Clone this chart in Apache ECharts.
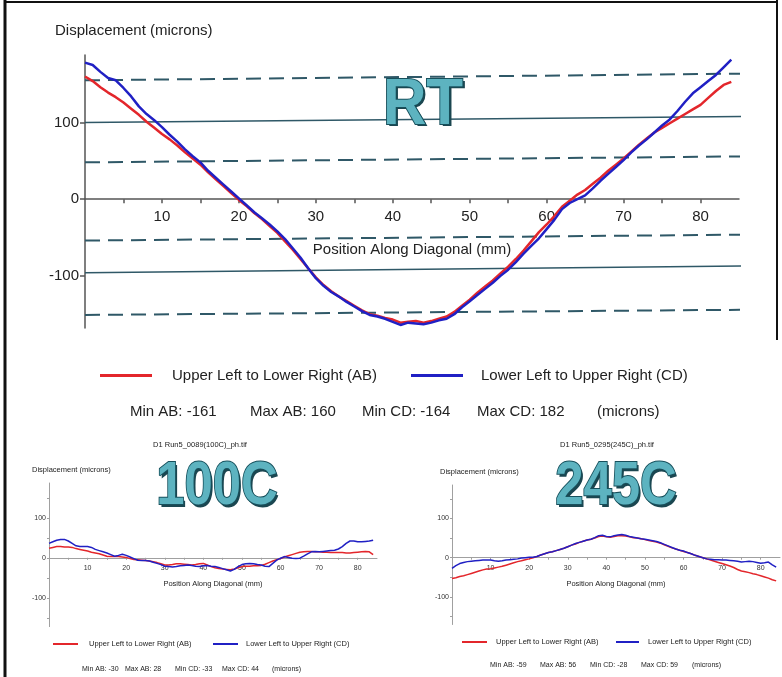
<!DOCTYPE html>
<html>
<head>
<meta charset="utf-8">
<title>Displacement along diagonal</title>
<script src="https://cdn.jsdelivr.net/npm/echarts@6/dist/echarts.min.js"></script>
<style>
  html, body { margin: 0; padding: 0; background: #fff; }
  #chart { width: 782px; height: 677px; }
</style>
</head>
<body>
<div id="chart"></div>
<script>
// sample positions along the diagonal, 1 mm apart
const positionMm = Array.from({ length: 85 }, (_, i) => i);

const nameAB = 'Upper Left to Lower Right (AB)';
const nameCD = 'Lower Left to Upper Right (CD)';

// RT (main chart)
const rtAB = [160, 154, 146, 139, 133, 126, 118, 110, 101, 93, 85, 78, 70, 61, 53, 45, 35, 26, 17, 8,
  -1, -9, -18, -26, -35, -44, -55, -66, -78, -90, -102, -112, -120, -127, -133, -139, -145, -150, -152, -155,
  -157, -161, -160, -159, -161, -159, -156, -153, -147, -139, -131, -122, -114, -106, -97, -88, -78, -67, -55, -43,
  -33, -22, -10, -2, 6, 12, 20, 28, 37, 45, 53, 62, 71, 79, 87, 93, 99, 105, 111, 117,
  123, 132, 141, 149, 153];
const rtCD = [178, 175, 166, 158, 155, 145, 134, 121, 111, 103, 94, 84, 75, 65, 56, 48, 37, 28, 19, 10,
  1, -8, -17, -25, -33, -42, -52, -64, -76, -90, -103, -113, -121, -127, -134, -140, -146, -151, -153, -156,
  -160, -164, -161, -162, -163, -161, -158, -156, -150, -141, -133, -125, -117, -109, -100, -92, -82, -71, -61, -51,
  -39, -27, -13, -5, 0, 5, 14, 24, 33, 42, 51, 61, 70, 78, 87, 96, 104, 115, 127, 138,
  146, 154, 162, 172, 182];

// tilted guide lines drawn over the RT chart (value at left edge / right edge)
const guideStart = [155, 100, 48, -54, -96, -151];
const guideEnd = [164, 108, 56, -46, -87, -144];
const guideEndMm = 88.3;

// 100C
const c100AB = [24, 26, 28, 28, 27, 27, 26, 23, 21, 19, 17, 14, 12, 10, 7, 4, 3, 3, 3, 2,
  1, -2, -4, -5, -6, -7, -8, -10, -12, -15, -18, -18, -17, -15, -15, -16, -17, -18, -17, -15,
  -14, -18, -22, -25, -27, -28, -29, -30, -28, -25, -22, -21, -21, -20, -20, -19, -16, -12, -8, -5,
  -2, 2, 5, 8, 11, 14, 15, 16, 16, 15, 15, 14, 14, 13, 13, 13, 13, 12, 12, 13,
  14, 15, 16, 15, 8];
const c100CD = [36, 40, 44, 46, 46, 42, 36, 30, 28, 28, 28, 26, 21, 18, 15, 12, 8, 4, 6, 9,
  6, 2, -2, -6, -7, -7, -8, -11, -14, -17, -21, -22, -23, -22, -20, -19, -18, -19, -21, -22,
  -20, -19, -21, -22, -24, -27, -30, -33, -29, -22, -17, -15, -14, -15, -17, -18, -21, -22, -14, -6,
  -1, 3, 1, -1, -2, -1, 4, 10, 15, 16, 15, 16, 17, 18, 19, 22, 28, 36, 42, 42,
  40, 40, 41, 42, 44];

// 245C
const c245AB = [-53, -51, -48, -46, -43, -40, -37, -34, -31, -29, -28, -26, -24, -22, -19, -16, -13, -10, -8, -5,
  -3, 0, 3, 7, 10, 13, 15, 18, 21, 24, 28, 32, 35, 39, 42, 45, 47, 50, 54, 55,
  53, 52, 54, 56, 56, 55, 53, 51, 50, 48, 46, 44, 42, 40, 37, 33, 29, 25, 22, 19,
  16, 13, 10, 6, 3, 0, -3, -6, -9, -12, -15, -18, -21, -25, -30, -34, -36, -38, -41, -43,
  -46, -49, -52, -56, -59];
const c245CD = [-27, -20, -15, -12, -10, -9, -8, -7, -6, -6, -6, -8, -9, -8, -6, -5, -4, -3, -1, 0,
  1, 1, 3, 7, 10, 13, 15, 18, 21, 24, 28, 32, 36, 39, 42, 45, 47, 51, 56, 57,
  54, 53, 56, 58, 59, 57, 54, 52, 50, 48, 47, 45, 43, 41, 38, 34, 30, 26, 22, 19,
  17, 13, 10, 6, 3, 0, -3, -4, -5, -5, -6, -6, -7, -8, -9, -11, -10, -9, -10, -12,
  -14, -13, -11, -18, -24];

const rtStats = ['Min AB: -161', 'Max AB: 160', 'Min CD: -164', 'Max CD: 182', '(microns)'];
const c100Stats = ['Min AB: -30', 'Max AB: 28', 'Min CD: -33', 'Max CD: 44', '(microns)'];
const c245Stats = ['Min AB: -59', 'Max AB: 56', 'Min CD: -28', 'Max CD: 59', '(microns)'];

const xTicks = [5, 10, 15, 20, 25, 30, 35, 40, 45, 50, 55, 60, 65, 70, 75, 80];
const xLabels = [10, 20, 30, 40, 50, 60, 70, 80];
const yLabels = [-100, 0, 100];
const ySmallTicks = [-150, -100, -50, 0, 50, 100, 150];

const font = '"Liberation Sans", Arial, sans-serif';
const red = '#e3262b';
const blue = '#2020c4';

const pair = vals => vals.map((v, i) => [positionMm[i], v]);

// grids: pixel box plus y range
const grids = [
  { left: 85, top: 55, width: 654, height: 273, min: -168, max: 188 },
  { left: 49, top: 483, width: 328, height: 143.6, min: -172, max: 187 },
  { left: 452, top: 485, width: 328, height: 139.5, min: -170, max: 185 }
];
// shift the x axis up from the grid bottom to where y = 0 sits
const zeroOffset = g => -g.height * (0 - g.min) / (g.max - g.min);

// big temperature label: dark drop copy behind a teal, outlined copy
function bigLabel(text, x, y, size, sx) {
  const common = { x: x, y: y, scaleX: sx, silent: true };
  const st = { text: text, font: 'bold ' + size + 'px ' + font, textAlign: 'center', textVerticalAlign: 'middle' };
  return [
    Object.assign({ type: 'text', z: 10, style: Object.assign({}, st, { x: 2.5, y: 2.5, fill: '#1b4650' }) }, common),
    Object.assign({ type: 'text', z: 11, style: Object.assign({}, st, { fill: '#5db3c0', stroke: '#17505c', lineWidth: 2 }) }, common)
  ];
}

function plainText(text, x, y, size, align) {
  return { type: 'text', x: x, y: y, silent: true,
    style: { text: text, font: size + 'px ' + font, fill: '#222', textAlign: align || 'left', textVerticalAlign: 'middle' } };
}

function statsRow(items, lefts, y, size) {
  return items.map((t, i) => plainText(t, lefts[i], y, size));
}

function legendItem(name, left, top, w, h, size, gap) {
  return {
    data: [name], left: left, top: top, icon: 'rect', itemWidth: w, itemHeight: h,
    selectedMode: false, padding: 0,
    textStyle: { fontFamily: font, fontSize: size, color: '#222', padding: [0, 0, 0, gap] }
  };
}

function smallX(i) {
  return {
    gridIndex: i, type: 'value', min: 0, max: 85, offset: zeroOffset(grids[i]),
    axisLine: { onZero: false, lineStyle: { color: '#a0a0a0', width: 1 } },
    axisTick: { customValues: xTicks, length: 2, lineStyle: { color: '#a0a0a0' } },
    axisLabel: { customValues: xLabels, margin: 7, fontSize: 7, color: '#333', fontFamily: font },
    splitLine: { show: false },
    name: 'Position Along Diagonal (mm)', nameLocation: 'middle', nameGap: 22,
    nameTextStyle: { fontSize: 7.5, color: '#222', fontFamily: font }
  };
}

function smallY(i) {
  return {
    gridIndex: i, type: 'value', min: grids[i].min, max: grids[i].max,
    axisLine: { show: true, onZero: false, lineStyle: { color: '#a0a0a0', width: 1 } },
    axisTick: { show: true, customValues: ySmallTicks, length: 2, lineStyle: { color: '#a0a0a0' } },
    axisLabel: { customValues: yLabels, margin: 3, fontSize: 7, color: '#333', fontFamily: font },
    splitLine: { show: false }
  };
}

function dataLine(name, vals, grid, color, width) {
  return {
    name: name, type: 'line', xAxisIndex: grid, yAxisIndex: grid, data: pair(vals),
    showSymbol: false, symbol: 'none', silent: true, z: 3,
    lineStyle: { color: color, width: width }, itemStyle: { color: color }
  };
}

const guideSeries = guideStart.map((v, i) => ({
  type: 'line', xAxisIndex: 0, yAxisIndex: 0, clip: false, silent: true, symbol: 'none', z: 2,
  data: [[0, v], [guideEndMm, guideEnd[i]]],
  lineStyle: { color: '#2f5867', width: (i === 1 || i === 4) ? 1.5 : 2, type: (i === 1 || i === 4) ? 'solid' : [15, 8] }
}));

const chart = echarts.init(document.getElementById('chart'));

chart.setOption({
  animation: false,
  backgroundColor: '#fff',
  textStyle: { fontFamily: font },
  grid: grids.map(g => ({ left: g.left, top: g.top, width: g.width, height: g.height, outerBoundsMode: 'none' })),
  xAxis: [
    {
      gridIndex: 0, type: 'value', min: 0, max: 85, offset: zeroOffset(grids[0]),
      axisLine: { onZero: false, lineStyle: { color: '#555', width: 1.5 } },
      axisTick: { customValues: xTicks, length: 4, lineStyle: { color: '#555', width: 1.5 } },
      axisLabel: { customValues: xLabels, margin: 10, fontSize: 15, color: '#222', fontFamily: font },
      splitLine: { show: false },
      name: 'Position Along Diagonal (mm)', nameLocation: 'middle', nameGap: 43,
      nameTextStyle: { fontSize: 15, color: '#222', fontFamily: font }
    },
    smallX(1),
    smallX(2)
  ],
  yAxis: [
    {
      gridIndex: 0, type: 'value', min: grids[0].min, max: grids[0].max,
      axisLine: { show: true, onZero: false, lineStyle: { color: '#555', width: 1.5 } },
      axisTick: { show: true, customValues: yLabels, length: 5, lineStyle: { color: '#555', width: 1.5 } },
      axisLabel: { customValues: yLabels, margin: 6, fontSize: 15, color: '#222', fontFamily: font },
      splitLine: { show: false }
    },
    smallY(1),
    smallY(2)
  ],
  legend: [
    legendItem(nameAB, 100, 368, 52, 3, 15, 15),
    legendItem(nameCD, 411, 368, 52, 3, 15, 13),
    legendItem(nameAB, 53, 640, 25, 2, 7.5, 6),
    legendItem(nameCD, 213, 640, 25, 2, 7.5, 3),
    legendItem(nameAB, 462, 638, 25, 2, 7.5, 4),
    legendItem(nameCD, 616, 638, 23, 2, 7.5, 4)
  ],
  graphic: [].concat(
    [
      { type: 'line', silent: true, shape: { x1: 5, y1: 0, x2: 5, y2: 677 }, style: { stroke: '#111', lineWidth: 3 } },
      { type: 'line', silent: true, shape: { x1: 5, y1: 2, x2: 777, y2: 2 }, style: { stroke: '#111', lineWidth: 2 } },
      { type: 'line', silent: true, shape: { x1: 777, y1: 0, x2: 777, y2: 340 }, style: { stroke: '#111', lineWidth: 2 } },
      plainText('Displacement (microns)', 55, 31, 15),
      plainText('D1 Run5_0089(100C)_ph.tif', 200, 445, 7.5, 'center'),
      plainText('Displacement (microns)', 32, 470, 7.5),
      plainText('D1 Run5_0295(245C)_ph.tif', 607, 445, 7.5, 'center'),
      plainText('Displacement (microns)', 440, 472, 7.5)
    ],
    statsRow(rtStats, [130, 250, 362, 477, 597], 412, 15),
    statsRow(c100Stats, [82, 125, 175, 222, 272], 669, 7),
    statsRow(c245Stats, [490, 540, 590, 641, 692], 665, 7),
    bigLabel('RT', 423, 106, 64, 0.94),
    bigLabel('100C', 217, 487, 62, 0.82),
    bigLabel('245C', 616, 487, 62, 0.82)
  ),
  series: guideSeries.concat([
    dataLine(nameAB, rtAB, 0, red, 2.5),
    dataLine(nameCD, rtCD, 0, blue, 2.5),
    dataLine(nameAB, c100AB, 1, red, 1.5),
    dataLine(nameCD, c100CD, 1, blue, 1.5),
    dataLine(nameAB, c245AB, 2, red, 1.5),
    dataLine(nameCD, c245CD, 2, blue, 1.5)
  ])
});
</script>
</body>
</html>
